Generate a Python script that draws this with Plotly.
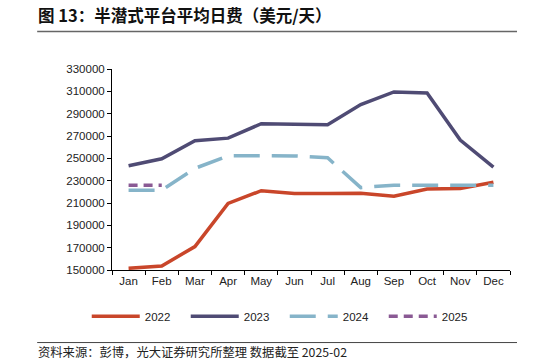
import plotly.graph_objects as go

months = ["Jan", "Feb", "Mar", "Apr", "May", "Jun", "Jul", "Aug", "Sep", "Oct", "Nov", "Dec"]
y2022 = [151500, 153600, 171000, 209600, 221000, 218600, 218400, 218800, 216000, 222500, 223000, 228600]
y2023 = [243400, 249600, 265700, 268100, 281000, 280700, 280100, 298200, 309500, 308500, 266300, 242200]
y2024 = [221500, 221500, 241000, 252300, 252300, 252200, 250500, 223800, 226000, 226000, 226000, 225800]
months2025 = ["Jan", "Feb"]
y2025 = [226000, 226000]
ytickvals = list(range(150000, 330001, 20000))

font = "Liberation Sans, Arial, sans-serif"
cjk = "Noto Sans CJK SC"

fig = go.Figure()
fig.add_trace(go.Scatter(x=months, y=y2022, name="2022", mode="lines",
                         line=dict(color="#C9462A", width=3.5)))
fig.add_trace(go.Scatter(x=months, y=y2023, name="2023", mode="lines",
                         line=dict(color="#4F4B74", width=3.5)))
fig.add_trace(go.Scatter(x=months, y=y2024, name="2024", mode="lines",
                         line=dict(color="#86B4C9", width=3.5, dash="26px,12px")))
fig.add_trace(go.Scatter(x=months2025, y=y2025, name="2025", mode="lines",
                         line=dict(color="#8A5A94", width=3.5, dash="9px,6px")))

fig.update_layout(
    width=549, height=364,
    margin=dict(l=112, r=39, t=69, b=94, autoexpand=False),
    paper_bgcolor="white", plot_bgcolor="white",
    font=dict(family=font, size=11, color="#222"),
    showlegend=True,
    legend=dict(orientation="h", xref="container", yref="container",
                x=0.158, xanchor="left", y=0.131, yanchor="middle",
                bgcolor="rgba(0,0,0,0)",
                font=dict(size=11.5, color="#222"), entrywidth=36, entrywidthmode="pixels",
                itemwidth=48, traceorder="normal"),
    xaxis=dict(type="category", range=[-0.5, 11.5], showline=True, linecolor="#000", linewidth=1,
               ticks="outside", ticklen=4, tickcolor="#000", tickson="boundaries",
               showgrid=False, zeroline=False, tickfont=dict(size=11.5, color="#222")),
    yaxis=dict(range=[150000, 330000], tickvals=ytickvals,
               ticktext=[str(v) for v in ytickvals],
               showline=True, linecolor="#000", linewidth=1,
               ticks="outside", ticklen=4, tickcolor="#000",
               showgrid=False, zeroline=False, tickfont=dict(size=11.5, color="#222")),
    shapes=[
        dict(type="line", xref="paper", yref="paper", x0=-0.188, x1=1.0176, y0=1.186, y1=1.186,
             line=dict(color="#666", width=1.5)),
        dict(type="line", xref="paper", yref="paper", x0=-0.188, x1=1.0176, y0=-0.361, y1=-0.361,
             line=dict(color="#444", width=1)),
    ],
    annotations=[
        dict(text="<b>图 13：半潜式平台平均日费（美元/天）</b>", xref="paper", yref="paper",
             x=-0.19, y=1.268, xanchor="left", yanchor="middle", showarrow=False,
             font=dict(family=cjk, size=16.5, color="#111")),
        dict(text="资料来源：彭博，光大证券研究所整理 数据截至 2025-02", xref="paper", yref="paper",
             x=-0.19, y=-0.41, xanchor="left", yanchor="middle", showarrow=False,
             font=dict(family=cjk, size=12.3, color="#222")),
    ],
)

fig.write_html("out.html", config={"displayModeBar": False},
               post_script="document.body.style.margin='0px';")
